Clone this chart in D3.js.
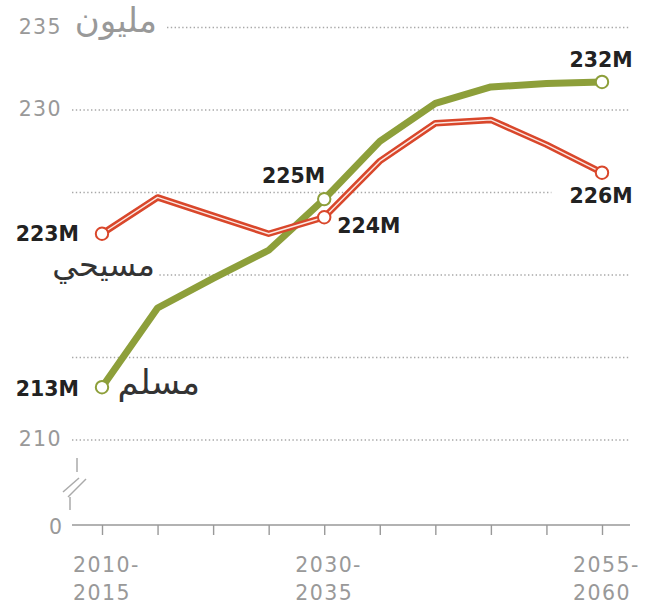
<!DOCTYPE html>
<html>
<head>
<meta charset="utf-8">
<script src="https://cdn.jsdelivr.net/npm/d3@7"></script>
<style>
  body { margin: 0; background: #fff; }
  svg { display: block; }
</style>
</head>
<body>
<svg id="chart" width="648" height="608"></svg>
<script>
'use strict';

// ─── Data ────────────────────────────────────────────────────────────────────
const periods = ['2010-2015', '2015-2020', '2020-2025', '2025-2030', '2030-2035',
                 '2035-2040', '2040-2045', '2045-2050', '2050-2055', '2055-2060'];
const muslimBirths    = [213.2, 218.0, 219.8, 221.5, 224.6, 228.1, 230.4, 231.4, 231.6, 231.7];
const christianBirths = [222.5, 224.7, 223.6, 222.5, 223.5, 226.9, 229.2, 229.4, 227.9, 226.2];

const gridValues   = [210, 215, 220, 225, 230, 235];
const labeledTicks = [210, 230, 235];
const xLabelIdx    = [0, 4, 9];

const unitLabel       = 'مليون';
const muslimName      = 'مسلم';
const christianName   = 'مسيحي';
const muslimLabels    = ['213M', '225M', '232M'];
const christianLabels = ['223M', '224M', '226M'];

// ─── Layout ──────────────────────────────────────────────────────────────────
const GREEN = '#8d9f3a';
const RED   = '#d9472b';
const GRAY  = '#999';
const AXIS_LEFT = 72, AXIS_RIGHT = 630, AXIS_Y = 525;

const svg = d3.select('#chart');

const x = d3.scalePoint().domain(periods).range([102, 602]);
const y = d3.scaleLinear().domain([210, 235]).range([440, 27.5]);

// ─── Gridlines ───────────────────────────────────────────────────────────────
const grid = svg.append('g');
grid.selectAll('line').data(gridValues).join('line')
  .attr('x1', AXIS_LEFT).attr('x2', AXIS_RIGHT)
  .attr('y1', d => y(d)).attr('y2', d => y(d))
  .attr('stroke', '#a8a8a8').attr('stroke-width', 1.4)
  .attr('stroke-dasharray', '1.4,2.4');

// halo layer sits above the grid, below the text
const halos = svg.append('g');

// ─── Y tick labels ───────────────────────────────────────────────────────────
const tickFont = { family: 'DejaVu Sans', size: 20.5, spacing: 1.4 };
svg.append('g').selectAll('text').data(labeledTicks).join('text')
  .attr('x', 62).attr('y', d => y(d) + 6)
  .attr('text-anchor', 'end')
  .attr('font-family', tickFont.family).attr('font-size', tickFont.size)
  .attr('letter-spacing', tickFont.spacing)
  .attr('fill', GRAY)
  .text(d => d);

svg.append('text')
  .attr('x', 62).attr('y', AXIS_Y + 9)
  .attr('text-anchor', 'end')
  .attr('font-family', tickFont.family).attr('font-size', tickFont.size)
  .attr('fill', GRAY)
  .text('0');

// ─── Broken axis mark ────────────────────────────────────────────────────────
const brk = svg.append('g').attr('stroke', '#aaa').attr('stroke-width', 1.5).attr('fill', 'none');
const bTop = y(210) + 18, bBot = AXIS_Y - 15;
brk.append('line').attr('x1', 77).attr('x2', 77).attr('y1', bTop).attr('y2', bTop + 14);
brk.append('line').attr('x1', 70).attr('x2', 70).attr('y1', bBot - 13).attr('y2', bBot);
brk.append('line').attr('x1', 63).attr('y1', bTop + 34).attr('x2', 79).attr('y2', bTop + 20);
brk.append('line').attr('x1', 68).attr('y1', bTop + 39).attr('x2', 86).attr('y2', bTop + 21);

// ─── X axis ──────────────────────────────────────────────────────────────────
svg.append('line')
  .attr('x1', AXIS_LEFT).attr('x2', AXIS_RIGHT)
  .attr('y1', AXIS_Y).attr('y2', AXIS_Y)
  .attr('stroke', '#999').attr('stroke-width', 1.6);

const xAxis = svg.append('g')
  .attr('transform', `translate(0,${AXIS_Y})`)
  .call(d3.axisBottom(x).tickSize(10).tickFormat(''));
xAxis.select('.domain').remove();
xAxis.selectAll('.tick line').attr('stroke', '#999').attr('stroke-width', 1.4);

xLabelIdx.forEach(i => {
  const [a, b] = periods[i].split('-');
  const t = svg.append('text')
    .attr('font-family', tickFont.family).attr('font-size', tickFont.size)
    .attr('letter-spacing', tickFont.spacing)
    .attr('fill', GRAY);
  const l2 = t.append('tspan').attr('y', 600).text(b);
  const w = l2.node().getComputedTextLength();
  const x0 = x(periods[i]) - w / 2;
  l2.attr('x', x0);
  t.insert('tspan', 'tspan').attr('x', x0).attr('y', 572).text(a + '-');
});

// ─── Lines ───────────────────────────────────────────────────────────────────
const line = d3.line()
  .x((d, i) => x(periods[i]))
  .y(d => y(d));

svg.append('path')
  .attr('d', line(muslimBirths))
  .attr('fill', 'none').attr('stroke', GREEN)
  .attr('stroke-width', 7).attr('stroke-linejoin', 'round');

svg.append('path')
  .attr('d', line(christianBirths))
  .attr('fill', 'none').attr('stroke', RED)
  .attr('stroke-width', 6.5).attr('stroke-linejoin', 'round');
svg.append('path')
  .attr('d', line(christianBirths))
  .attr('fill', 'none').attr('stroke', '#fbe9e4')
  .attr('stroke-width', 1.4).attr('stroke-linejoin', 'round');

// ─── Endpoint circles ───────────────────────────────────────────────────────
function dots(values, color) {
  svg.append('g').selectAll('circle').data(xLabelIdx).join('circle')
    .attr('cx', i => x(periods[i])).attr('cy', i => y(values[i]))
    .attr('r', 6.2)
    .attr('fill', '#fff').attr('stroke', color).attr('stroke-width', 2);
}
dots(muslimBirths, GREEN);
dots(christianBirths, RED);

// ─── Text labels ─────────────────────────────────────────────────────────────
function haloFor(node, padX, padY) {
  const b = node.getBBox();
  halos.append('rect')
    .attr('x', b.x - padX).attr('y', b.y - padY)
    .attr('width', b.width + padX * 2).attr('height', b.height + padY * 2)
    .attr('fill', '#fff');
}

function valueLabel(text, px, py, anchor) {
  return svg.append('text')
    .attr('x', px).attr('y', py)
    .attr('text-anchor', anchor)
    .attr('font-family', 'DejaVu Sans').attr('font-weight', 'bold')
    .attr('font-size', 20.5).attr('fill', '#222')
    .text(text);
}

// start points
valueLabel(christianLabels[0], 79, y(christianBirths[0]) + 7, 'end');
valueLabel(muslimLabels[0],    79, y(muslimBirths[0]) + 9, 'end');
// 2030-2035
valueLabel(muslimLabels[1],    x(periods[4]) + 1, y(muslimBirths[4]) - 16, 'end');
valueLabel(christianLabels[1], x(periods[4]) + 13, y(christianBirths[4]) + 16, 'start');
// last points
valueLabel(muslimLabels[2],    x(periods[9]) - 1, y(muslimBirths[9]) - 15, 'middle');
const lbl226 = valueLabel(christianLabels[2], x(periods[9]) - 1, y(christianBirths[9]) + 30, 'middle');
haloFor(lbl226.node(), 18, 4);

function arabicLabel(text, px, py, size, color) {
  return svg.append('text')
    .attr('x', px).attr('y', py)
    .attr('text-anchor', 'end')
    .attr('font-family', 'DejaVu Sans')
    .attr('font-size', size).attr('fill', color)
    .text(text);
}

const unitT = arabicLabel(unitLabel, 157, y(235) + 4, 34, GRAY);
haloFor(unitT.node(), 10, 0);
const chrT = arabicLabel(christianName, 155, y(christianBirths[0]) + 42, 32, '#333');
haloFor(chrT.node(), 3, 0);
arabicLabel(muslimName, 200, y(muslimBirths[0]) + 7, 34, '#333');
</script>
</body>
</html>
